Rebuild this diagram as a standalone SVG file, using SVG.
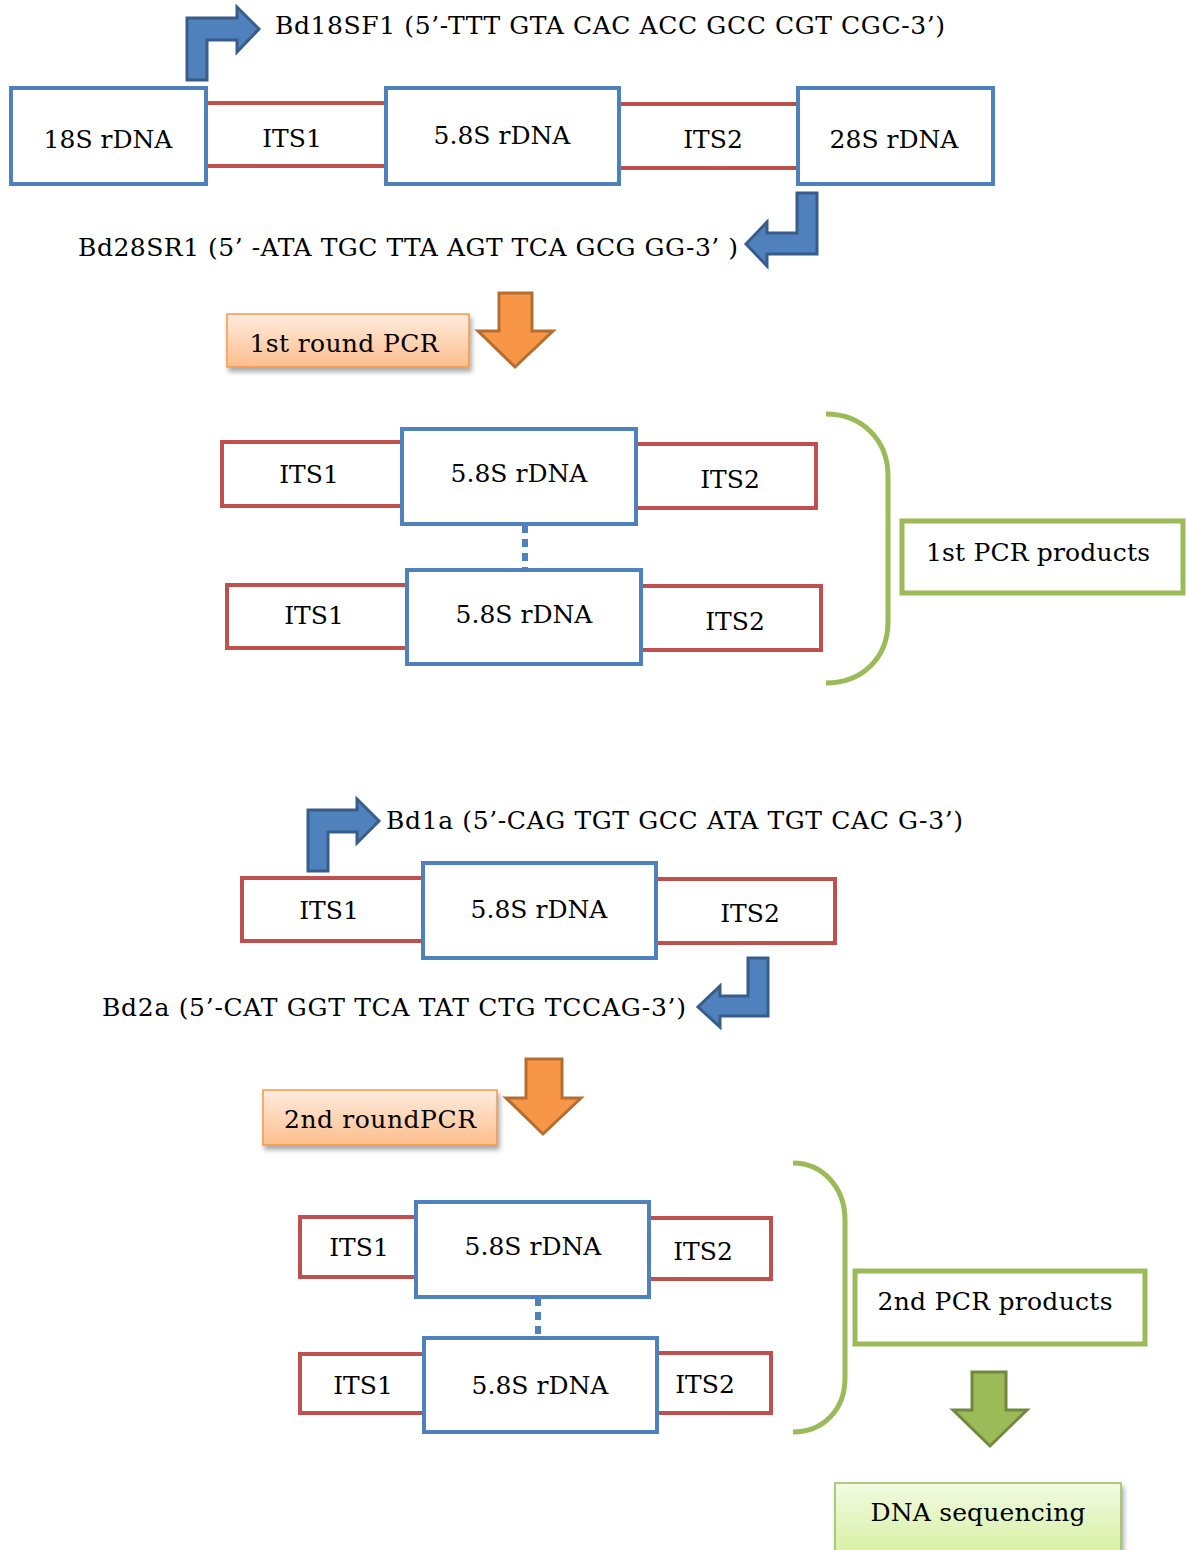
<svg xmlns="http://www.w3.org/2000/svg" width="1186" height="1550" viewBox="0 0 1186 1550">
<style>
text{font-family:"DejaVu Serif","Liberation Serif",serif;font-size:25px;fill:#000;text-anchor:middle}
.lt{text-anchor:start}
.blue{fill:#fff;stroke:#4F81BD;stroke-width:4}
.red{fill:#fff;stroke:#C0504D;stroke-width:4}
.redline{stroke:#C0504D;stroke-width:4;fill:none}
.barrow{fill:#4F81BD;stroke:#385D8A;stroke-width:3}
.oarrow{fill:#F79646;stroke:#B66D31;stroke-width:3}
.garrow{fill:#9BBB59;stroke:#71893F;stroke-width:3}
.brace{fill:none;stroke:#9BBB59;stroke-width:5}
.gbox{fill:#fff;stroke:#9BBB59;stroke-width:5}
.obox{fill:url(#og);stroke:#F79646;stroke-width:1.5;filter:url(#sh)}
.sbox{fill:url(#gg);stroke:#9BBB59;stroke-width:1.5;filter:url(#sh)}
.dot{stroke:#4F81BD;stroke-width:6;stroke-dasharray:8 6;fill:none}
</style>
<defs>
<linearGradient id="og" x1="0" y1="0" x2="0" y2="1"><stop offset="0" stop-color="#FFECDF"/><stop offset="1" stop-color="#FDBE8C"/></linearGradient>
<linearGradient id="gg" x1="0" y1="0" x2="0" y2="1"><stop offset="0" stop-color="#F2FBE2"/><stop offset="1" stop-color="#D5EFA0"/></linearGradient>
<filter id="sh" x="-10%" y="-20%" width="125%" height="150%"><feDropShadow dx="2" dy="4" stdDeviation="2.5" flood-color="#000" flood-opacity="0.35"/></filter>
</defs>
<rect width="1186" height="1550" fill="#fff"/>

<g id="connectors">
<path class="barrow" d="M187,80 L187,18 L237,18 L237,7 L259,29 L237,52 L237,40 L207,40 L207,80 Z"/>
<path class="barrow" d="M797,193 L817,193 L817,254 L767,254 L767,266 L746,244 L767,222 L767,233 L797,233 Z"/>
<path class="oarrow" d="M499,293 L532,293 L532,331 L553,331 L515,367 L478,331 L499,331 Z"/>
<path class="dot" d="M525,525 L525,569"/>
<path class="brace" d="M826,414 C862,414 888,440 888,476 L888,622 C888,658 862,683 826,683"/>
<path class="barrow" d="M308,871 L308,810 L357,810 L357,799 L379,821 L357,843 L357,832 L328,832 L328,871 Z"/>
<path class="barrow" d="M748,958 L768,958 L768,1016 L720,1016 L720,1027 L698,1007 L720,986 L720,996 L748,996 Z"/>
<path class="oarrow" d="M526,1059 L562,1059 L562,1098 L581,1098 L543,1134 L506,1098 L526,1098 Z"/>
<path class="dot" d="M538,1298 L538,1337"/>
<path class="brace" d="M793,1163 C823,1163 845,1188 845,1220 L845,1378 C845,1410 823,1432 793,1432"/>
<path class="garrow" d="M972,1372 L1006,1372 L1006,1410 L1027,1410 L990,1446 L953,1410 L972,1410 Z"/>
</g>

<g id="primer-f1"><text class="lt" x="275" y="34" textLength="670">Bd18SF1 (5’-TTT GTA CAC ACC GCC CGT CGC-3’)</text></g>

<g id="its1-top"><path class="redline" d="M206,103 L385,103 M206,166 L385,166"/><text x="292" y="147">ITS1</text></g>
<g id="its2-top"><path class="redline" d="M619,104 L797,104 M619,168 L797,168"/><text x="713" y="148">ITS2</text></g>
<g id="n18s"><rect class="blue" x="11" y="88" width="195" height="96"/><text x="108" y="148">18S rDNA</text></g>
<g id="n58s-top"><rect class="blue" x="386" y="88" width="233" height="96"/><text x="502" y="144">5.8S rDNA</text></g>
<g id="n28s"><rect class="blue" x="798" y="88" width="195" height="96"/><text x="894" y="148">28S rDNA</text></g>

<g id="primer-r1"><text class="lt" x="78" y="256" textLength="660">Bd28SR1 (5’ -ATA TGC TTA AGT TCA GCG GG-3’ )</text></g>

<g id="round1"><rect class="obox" x="227" y="314" width="242" height="53"/><text x="344" y="352" textLength="189">1st round PCR</text></g>

<g id="p1-row1">
<rect class="red" x="222" y="442" width="182" height="64"/>
<rect class="red" x="634" y="444" width="182" height="64"/>
<rect class="blue" x="402" y="429" width="234" height="95"/>
<text x="309" y="483">ITS1</text><text x="519" y="482">5.8S rDNA</text><text x="730" y="488">ITS2</text>
</g>
<g id="p1-row2">
<rect class="red" x="227" y="585" width="182" height="63"/>
<rect class="red" x="639" y="586" width="182" height="64"/>
<rect class="blue" x="407" y="570" width="234" height="94"/>
<text x="314" y="624">ITS1</text><text x="524" y="623">5.8S rDNA</text><text x="735" y="630">ITS2</text>
</g>
<g id="products1"><rect class="gbox" x="902" y="521" width="281" height="72"/><text x="1038" y="561" textLength="224">1st PCR products</text></g>

<g id="primer-f2"><text class="lt" x="386" y="829" textLength="577">Bd1a (5’-CAG TGT GCC ATA TGT CAC G-3’)</text></g>
<g id="template2">
<rect class="red" x="242" y="878" width="182" height="63"/>
<rect class="red" x="654" y="879" width="181" height="64"/>
<rect class="blue" x="423" y="863" width="233" height="95"/>
<text x="329" y="919">ITS1</text><text x="539" y="918">5.8S rDNA</text><text x="750" y="922">ITS2</text>
</g>
<g id="primer-r2"><text class="lt" x="102" y="1016" textLength="584">Bd2a (5’-CAT GGT TCA TAT CTG TCCAG-3’)</text></g>

<g id="round2"><rect class="obox" x="263" y="1090" width="234" height="55"/><text x="380" y="1128" textLength="192">2nd roundPCR</text></g>

<g id="p2-row1">
<rect class="red" x="300" y="1217" width="117" height="60"/>
<rect class="red" x="647" y="1218" width="124" height="61"/>
<rect class="blue" x="416" y="1202" width="233" height="95"/>
<text x="359" y="1256">ITS1</text><text x="533" y="1255">5.8S rDNA</text><text x="703" y="1260">ITS2</text>
</g>
<g id="p2-row2">
<rect class="red" x="300" y="1354" width="125" height="59"/>
<rect class="red" x="655" y="1353" width="116" height="60"/>
<rect class="blue" x="424" y="1338" width="233" height="94"/>
<text x="363" y="1394">ITS1</text><text x="540" y="1394">5.8S rDNA</text><text x="705" y="1393">ITS2</text>
</g>
<g id="products2"><rect class="gbox" x="855" y="1271" width="290" height="73"/><text x="995" y="1310" textLength="235">2nd PCR products</text></g>

<g id="sequencing"><rect class="sbox" x="835" y="1483" width="286" height="75"/><text x="978" y="1521" textLength="215">DNA sequencing</text></g>
</svg>
